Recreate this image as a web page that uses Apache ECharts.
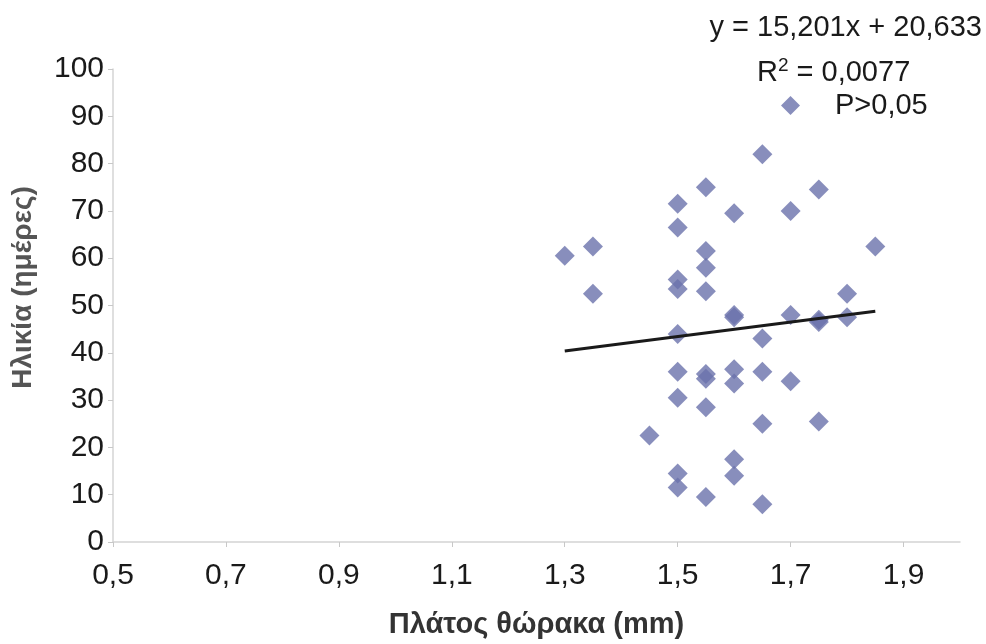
<!DOCTYPE html>
<html>
<head>
<meta charset="utf-8">
<script src="https://cdn.jsdelivr.net/npm/echarts@6/dist/echarts.min.js"></script>
<style>html,body{margin:0;padding:0;background:#fff;}#c{width:986px;height:644px;}</style>
</head>
<body>
<div id="c"></div>
<script>
// Thorax width (mm) per point
var widthMm = [1.3, 1.35, 1.35, 1.45,
  1.5, 1.5, 1.5, 1.5, 1.5, 1.5, 1.5, 1.5, 1.5,
  1.55, 1.55, 1.55, 1.55, 1.55, 1.55, 1.55, 1.55,
  1.6, 1.6, 1.6, 1.6, 1.6, 1.6, 1.6,
  1.65, 1.65, 1.65, 1.65, 1.65,
  1.7, 1.7, 1.7,
  1.75, 1.75, 1.75, 1.75,
  1.8, 1.8,
  1.85];
// Age (days) per point
var ageDays = [60.5, 62.5, 52.5, 22.5,
  71.5, 66.5, 55.5, 53.5, 44, 36, 30.5, 14.5, 11.5,
  75, 61.5, 58, 53, 35.5, 34.5, 28.5, 9.5,
  69.5, 48, 47.5, 36.5, 33.5, 17.5, 14,
  82, 43, 36, 25, 8,
  70, 48, 34,
  74.5, 47, 46.5, 25.5,
  52.5, 47.5,
  62.5];
// Linear trend line end points (y = 15,201x + 20,633)
var trendX = [1.3, 1.85];
var trendY = [40.4, 48.8];
var xTickLabels = [0.5, 0.7, 0.9, 1.1, 1.3, 1.5, 1.7, 1.9];
var yTickLabels = [0, 10, 20, 30, 40, 50, 60, 70, 80, 90, 100];

var scatterData = widthMm.map(function (x, i) { return [x, ageDays[i]]; });
var trendData = trendX.map(function (x, i) { return [x, trendY[i]]; });

var chart = echarts.init(document.getElementById('c'), null, {renderer: 'canvas'});
var FONT = 'Liberation Sans, Arial, sans-serif';
var labelFont = {fontFamily: FONT, fontSize: 30, color: '#1a1a1a'};
chart.setOption({
  backgroundColor: '#ffffff',
  animation: false,
  grid: {left: 113, right: 26, top: 69, bottom: 96, containLabel: false},
  legend: {
    data: [{name: 'P>0,05', icon: 'diamond'}],
    left: 781, top: 91, padding: 0,
    itemWidth: 19, itemHeight: 19,
    textStyle: {fontFamily: FONT, fontSize: 29, color: '#1a1a1a', padding: [0, 0, 0, 30]}
  },
  xAxis: {
    type: 'value', min: 0.5, max: 2.0,
    name: 'Πλάτος θώρακα (mm)', nameLocation: 'middle', nameGap: 68,
    nameTextStyle: {fontFamily: FONT, fontWeight: 'bold', fontSize: 29, color: '#333333'},
    axisLine: {show: true, lineStyle: {color: '#d4d4d4', width: 1.5}},
    axisTick: {show: true, length: 5, lineStyle: {color: '#c8c8c8'}, customValues: xTickLabels},
    splitLine: {show: false},
    axisLabel: Object.assign({margin: 19, customValues: xTickLabels, formatter: function (v) { return v.toFixed(1).replace('.', ','); }}, labelFont)
  },
  yAxis: {
    type: 'value', min: 0, max: 100, interval: 10,
    name: 'Ηλικία (ημέρες)', nameLocation: 'middle', nameGap: 76, nameRotate: 90,
    nameTextStyle: {fontFamily: FONT, fontWeight: 'bold', fontSize: 28, color: '#555555', padding: [0, 0, 0, 36]},
    axisLine: {show: true, lineStyle: {color: '#d4d4d4', width: 1.5}},
    axisTick: {show: true, length: 5, lineStyle: {color: '#c8c8c8'}},
    splitLine: {show: false},
    axisLabel: Object.assign({margin: 9}, labelFont)
  },
  series: [
    {
      name: 'P>0,05', type: 'scatter', symbol: 'diamond', symbolSize: 20,
      itemStyle: {color: '#6a72ab'},
      data: scatterData, z: 3
    },
    {
      name: 'trend', type: 'line', symbol: 'none', data: trendData,
      lineStyle: {color: '#1a1a1a', width: 3}, z: 4, silent: true
    }
  ],
  graphic: [
    {type: 'text', right: 4, top: 13, style: {text: 'y = 15,201x + 20,633', font: '29px Liberation Sans, Arial', fill: '#1a1a1a'}},
    {type: 'text', left: 757, top: 56, style: {
      text: '{a|R}{s|2}{a| = 0,0077}',
      rich: {
        a: {font: '29px Liberation Sans, Arial', fill: '#1a1a1a', verticalAlign: 'bottom'},
        s: {font: '19px Liberation Sans, Arial', fill: '#1a1a1a', verticalAlign: 'top', padding: [0, 0, 12, 0]}
      }
    }}
  ]
});
</script>
</body>
</html>
